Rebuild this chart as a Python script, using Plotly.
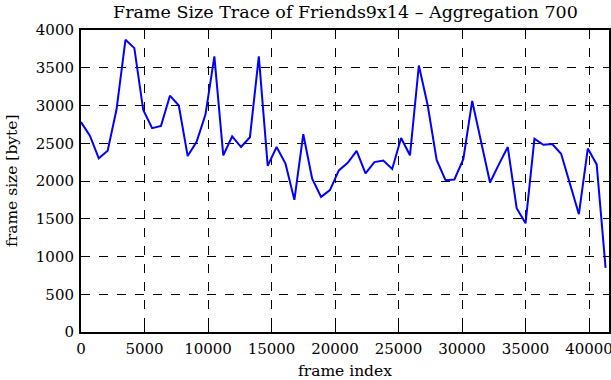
import plotly.graph_objects as go

frame_index = [i * 700 for i in range(60)]
frame_size = [2780, 2600, 2300, 2400, 2950, 3870, 3760, 2940, 2700, 2730,
              3130, 3000, 2330, 2520, 2880, 3650, 2340, 2590, 2450, 2580,
              3650, 2200, 2450, 2230, 1750, 2620, 2030, 1790, 1880, 2140,
              2240, 2400, 2100, 2250, 2270, 2160, 2570, 2340, 3530, 3000,
              2280, 2010, 2020, 2290, 3060, 2520, 1980, 2220, 2450, 1640,
              1440, 2560, 2480, 2490, 2360, 1960, 1560, 2430, 2220, 850]

x_ticks = [0, 5000, 10000, 15000, 20000, 25000, 30000, 35000, 40000]
x_tick_labels = ["0", "5000", "10000", "15000", "20000", "25000", "30000", "35000", "40000"]
y_ticks = [0, 500, 1000, 1500, 2000, 2500, 3000, 3500, 4000]
y_tick_labels = ["0", "500", "1000", "1500", "2000", "2500", "3000", "3500", "4000"]

FONT = "DejaVu Serif"
FS = 15.5
TFS = 15

fig = go.Figure(go.Scatter(
    x=frame_index, y=frame_size, mode="lines",
    line=dict(color="#0000ff", width=2), showlegend=False,
    hoverinfo="skip",
))

axis_common = dict(
    showline=True, linecolor="black", linewidth=2, mirror="ticks",
    ticks="inside", ticklen=6, tickcolor="black", tickwidth=1,
    showgrid=True, gridcolor="black", gridwidth=1, griddash="dash",
    zeroline=False, automargin=False, ticklabeloverflow="allow",
    tickfont=dict(family=FONT, size=TFS, color="black"),
)

fig.update_layout(
    width=611, height=380,
    margin=dict(l=81, r=2, t=30, b=48),
    paper_bgcolor="white", plot_bgcolor="white",
    font=dict(family=FONT, size=FS, color="black"),
    xaxis=dict(range=[0, 41570], tickvals=x_ticks, ticktext=x_tick_labels,
               ticklabelstandoff=2, **axis_common),
    yaxis=dict(range=[0, 4000], tickvals=y_ticks, ticktext=y_tick_labels,
               ticklabelstandoff=2, **axis_common),
    annotations=[
        dict(text="Frame Size Trace of Friends9x14 – Aggregation 700",
             xref="paper", yref="paper", x=0.5, y=1, yshift=30,
             xanchor="center", yanchor="top", showarrow=False,
             font=dict(family=FONT, size=17.5, color="black")),
        dict(text="frame index", xref="paper", yref="paper", x=0.5, y=0,
             yshift=-28, xanchor="center", yanchor="top", showarrow=False,
             font=dict(family=FONT, size=FS, color="black")),
        dict(text="frame size [byte]", xref="paper", yref="paper", x=0, y=0.5,
             xshift=-69, xanchor="center", yanchor="middle", textangle=-90,
             showarrow=False, font=dict(family=FONT, size=FS, color="black")),
    ],
)

fig.write_html("out.html", config={"displayModeBar": False},
               post_script="document.body.style.margin='0';document.body.style.overflow='hidden';")
